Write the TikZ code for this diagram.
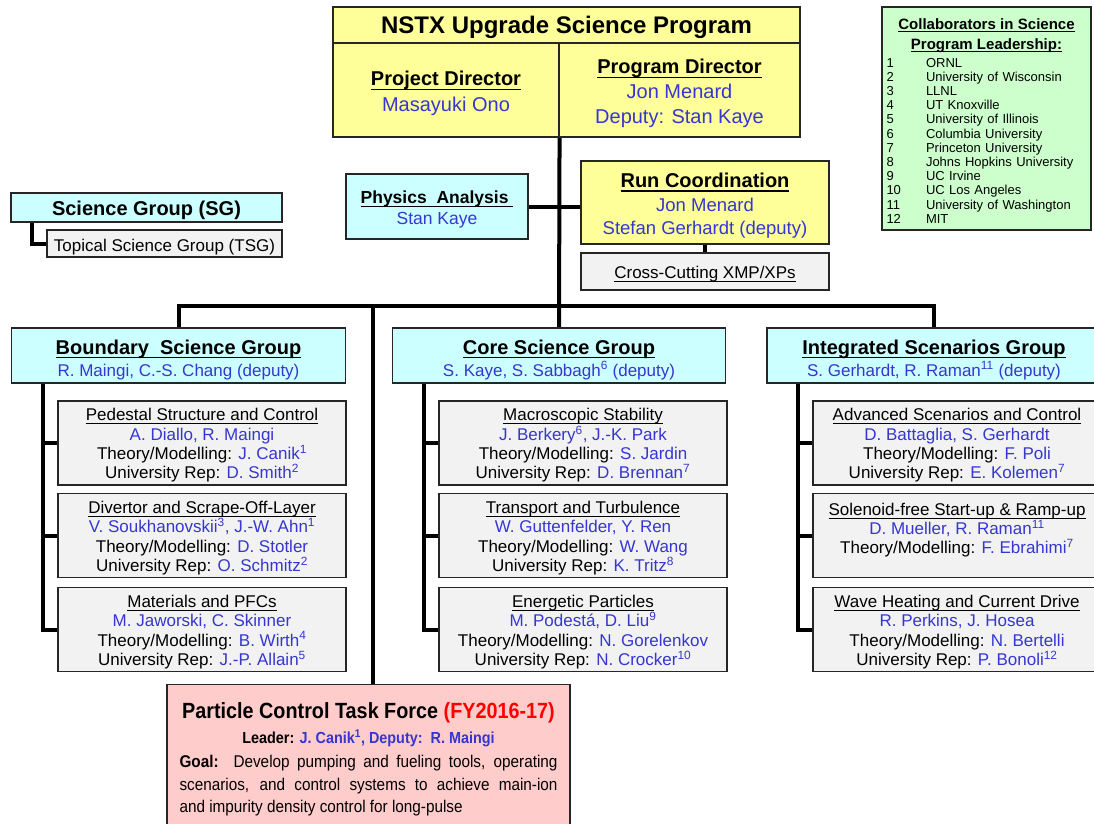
\documentclass[tikz,border=0pt]{standalone}
\usepackage{fontspec}
\setmainfont{Liberation Sans}
\newfontfamily\narrowfont[FakeStretch=0.9]{Liberation Sans}
\usepackage{tikz}
\usetikzlibrary{backgrounds}
\definecolor{BoxYellow}{HTML}{FFFF99}
\definecolor{BoxCyan}{HTML}{CCFFFF}
\definecolor{BoxGrey}{HTML}{F2F2F2}
\definecolor{BoxGreen}{HTML}{CCFFCC}
\definecolor{BoxPink}{HTML}{FFCCCC}
\definecolor{NameBlue}{HTML}{3636D0}
\definecolor{TaskRed}{HTML}{FF0000}
\newcommand{\nm}[1]{\textcolor{NameBlue}{#1}}
\newcommand{\uln}[1]{\setbox0=\hbox{#1}\leavevmode\rlap{\rule[-0.2em]{\wd0}{0.06em}}\box0}
\newcommand{\lift}[1]{\rule{0pt}{#1pt}}
\setlength{\parindent}{0pt}

\begin{document}
\begin{tikzpicture}[x=1pt, y=-1pt,
  box/.style={draw=black!85, line width=1.1pt, inner sep=0pt, align=center},
  yellowbox/.style={box, fill=BoxYellow},
  cyanbox/.style={box, fill=BoxCyan},
  greybox/.style={box, fill=BoxGrey},
  groupbox/.style={cyanbox, minimum width=334pt, minimum height=55pt, font=\fontsize{17}{22}\selectfont},
  subbox/.style={greybox, minimum width=288pt, minimum height=84pt, font=\fontsize{17}{19.3}\selectfont},
  conn/.style={line width=4pt, line cap=rect}]
  \useasboundingbox (0,0) rectangle (1094,823);

  \node[yellowbox, minimum width=467pt, minimum height=36pt, font=\fontsize{24}{28}\selectfont\bfseries] (prog) at (566.5,25)
    {\lift{22.5}NSTX Upgrade Science Program};
  \node[yellowbox, minimum width=226pt, minimum height=94pt, font=\fontsize{20}{26}\selectfont] (projdir) at (446,90)
    {\lift{22}\bfseries\uln{Project Director}\\ \nm{Masayuki Ono}};
  \node[yellowbox, minimum width=241pt, minimum height=94pt, font=\fontsize{20}{25}\selectfont] (progdir) at (679.5,90)
    {\lift{22}\bfseries\uln{Program Director}\\ \nm{Jon Menard}\\ \nm{Deputy: Stan Kaye}};

  \node[box, fill=BoxGreen, minimum width=209pt, minimum height=223pt, text width=200pt, align=left,
        font=\fontsize{13}{14.2}\selectfont] (collab) at (986.5,118.5)
    {{\centering\fontsize{15}{20}\selectfont\bfseries \lift{19.6}\uln{Collaborators in Science}\\ \uln{Program Leadership:}\par}
     \vspace{4pt}
     \begin{tabular}{@{}p{39.5pt}@{}l@{}}
       1 & ORNL\\ 2 & University of Wisconsin\\ 3 & LLNL\\ 4 & UT Knoxville\\
       5 & University of Illinois\\ 6 & Columbia University\\ 7 & Princeton University\\
       8 & Johns Hopkins University\\ 9 & UC Irvine\\ 10 & UC Los Angeles\\
       11 & University of Washington\\ 12 & MIT
     \end{tabular}};

  \node[cyanbox, minimum width=271pt, minimum height=29pt, font=\fontsize{20}{22}\selectfont\bfseries] (sg) at (146.5,207.5)
    {\lift{20}Science Group (SG)};
  \node[greybox, minimum width=235pt, minimum height=27pt, font=\fontsize{17}{20}\selectfont] (tsg) at (164.5,243.5)
    {\lift{19}Topical Science Group (TSG)};

  \node[cyanbox, minimum width=182pt, minimum height=65pt, font=\fontsize{17.5}{21}\selectfont] (pa) at (437,206.5)
    {\lift{18}{\bfseries\uln{Physics\ \ Analysis\ }}\\ \nm{Stan Kaye}};
  \node[yellowbox, minimum width=248pt, minimum height=83pt, font=\fontsize{18.5}{23.5}\selectfont] (rc) at (705,202.5)
    {\lift{21}{\fontsize{20}{23.5}\selectfont\bfseries\uln{Run Coordination}}\\ \nm{Jon Menard}\\ \nm{Stefan Gerhardt (deputy)}};
  \node[greybox, minimum width=248pt, minimum height=37pt, font=\fontsize{17}{20}\selectfont] (xp) at (705,271.5)
    {\lift{17.4}\uln{Cross-Cutting XMP/XPs}};

  \node[groupbox] (bsg) at (178.5,355.5)
    {\lift{23}{\fontsize{20}{22}\selectfont\bfseries\uln{Boundary\ \ Science Group}}\\ \nm{R. Maingi, C.-S. Chang (deputy)}};
  \node[groupbox, minimum width=333pt] (csg) at (559,355.5)
    {\lift{23}{\fontsize{20}{22}\selectfont\bfseries\uln{Core Science Group}}\\ \nm{S. Kaye, S. Sabbagh\textsuperscript{6} (deputy)}};
  \node[groupbox] (isg) at (934,355.5)
    {\lift{23}{\fontsize{20}{22}\selectfont\bfseries\uln{Integrated Scenarios Group}}\\ \nm{S. Gerhardt, R. Raman\textsuperscript{11} (deputy)}};

  \node[subbox] (b1) at (202,443)
    {\lift{17.4}\uln{Pedestal Structure and Control}\\ \nm{A. Diallo, R. Maingi}\\ Theory/Modelling: \nm{J. Canik\textsuperscript{1}}\\ University Rep: \nm{D. Smith\textsuperscript{2}}};
  \node[subbox] (b2) at (202,535.5)
    {\lift{17.4}\uln{Divertor and Scrape-Off-Layer}\\ \nm{V. Soukhanovskii\textsuperscript{3}, J.-W. Ahn\textsuperscript{1}}\\ Theory/Modelling: \nm{D. Stotler}\\ University Rep: \nm{O. Schmitz\textsuperscript{2}}};
  \node[subbox] (b3) at (202,629.5)
    {\lift{17.4}\uln{Materials and PFCs}\\ \nm{M. Jaworski, C. Skinner}\\ Theory/Modelling: \nm{B. Wirth\textsuperscript{4}}\\ University Rep: \nm{J.-P. Allain\textsuperscript{5}}};

  \node[subbox] (c1) at (583,443)
    {\lift{17.4}\uln{Macroscopic Stability}\\ \nm{J. Berkery\textsuperscript{6}, J.-K. Park}\\ Theory/Modelling: \nm{S. Jardin}\\ University Rep: \nm{D. Brennan\textsuperscript{7}}};
  \node[subbox] (c2) at (583,535.5)
    {\lift{17.4}\uln{Transport and Turbulence}\\ \nm{W. Guttenfelder, Y. Ren}\\ Theory/Modelling: \nm{W. Wang}\\ University Rep: \nm{K. Tritz\textsuperscript{8}}};
  \node[subbox] (c3) at (583,629.5)
    {\lift{17.4}\uln{Energetic Particles}\\ \nm{M. Podestá, D. Liu\textsuperscript{9}}\\ Theory/Modelling: \nm{N. Gorelenkov}\\ University Rep: \nm{N. Crocker\textsuperscript{10}}};

  \node[subbox] (i1) at (957,443)
    {\lift{17.4}\uln{Advanced Scenarios and Control}\\ \nm{D. Battaglia, S. Gerhardt}\\ Theory/Modelling: \nm{F. Poli}\\ University Rep: \nm{E. Kolemen\textsuperscript{7}}};
  \node[subbox] (i2) at (957,535.5)
    {\lift{17.4}\uln{Solenoid-free Start-up \& Ramp-up}\\ \nm{D. Mueller, R. Raman\textsuperscript{11}}\\ Theory/Modelling: \nm{F. Ebrahimi\textsuperscript{7}}\\ \mbox{}};
  \node[subbox] (i3) at (957,629.5)
    {\lift{17.4}\uln{Wave Heating and Current Drive}\\ \nm{R. Perkins, J. Hosea}\\ Theory/Modelling: \nm{N. Bertelli}\\ University Rep: \nm{P. Bonoli\textsuperscript{12}}};

  \node[box, fill=BoxPink, anchor=north, minimum width=403pt, minimum height=150pt, text width=378pt, align=justify,
        font=\narrowfont] (tf) at (368.5,684)
    {{\centering\fontsize{22}{25}\selectfont\bfseries Particle Control Task Force \textcolor{TaskRed}{(FY2016-17)}\par}
     {\centering\fontsize{16}{25}\selectfont\bfseries Leader: \nm{J. Canik\textsuperscript{1}, Deputy:\ \ R. Maingi}\par}
     \vspace{1.5pt}
     {\fontsize{17}{22.5}\selectfont\textbf{Goal:}\ \ Develop pumping and fueling tools, operating\linebreak
      scenarios, and control systems to achieve main-ion\linebreak and impurity density control for long-pulse\par}};

  \begin{scope}[on background layer]
    \coordinate (hub) at (559,306);
    \coordinate (tfjoin) at (373,306);
    \draw[conn] (projdir.south east) -- (csg.north);
    \draw[conn] (bsg.north) |- (hub) -| (isg.north);
    \draw[conn] (tfjoin) -- (tfjoin |- tf.north);
    \draw[conn] (pa.east) -- (pa.east -| rc.west);
    \draw[conn] (rc.south) -- (xp.north);
    \draw[conn] (tsg.west) -| ([xshift=22pt]sg.south west);
    \foreach \grp in {b,c,i}
      \foreach \k in {1,2,3}
        \draw[conn] (\grp\k.west) -| ([xshift=32pt]\grp sg.south west);
  \end{scope}
\end{tikzpicture}
\end{document}
